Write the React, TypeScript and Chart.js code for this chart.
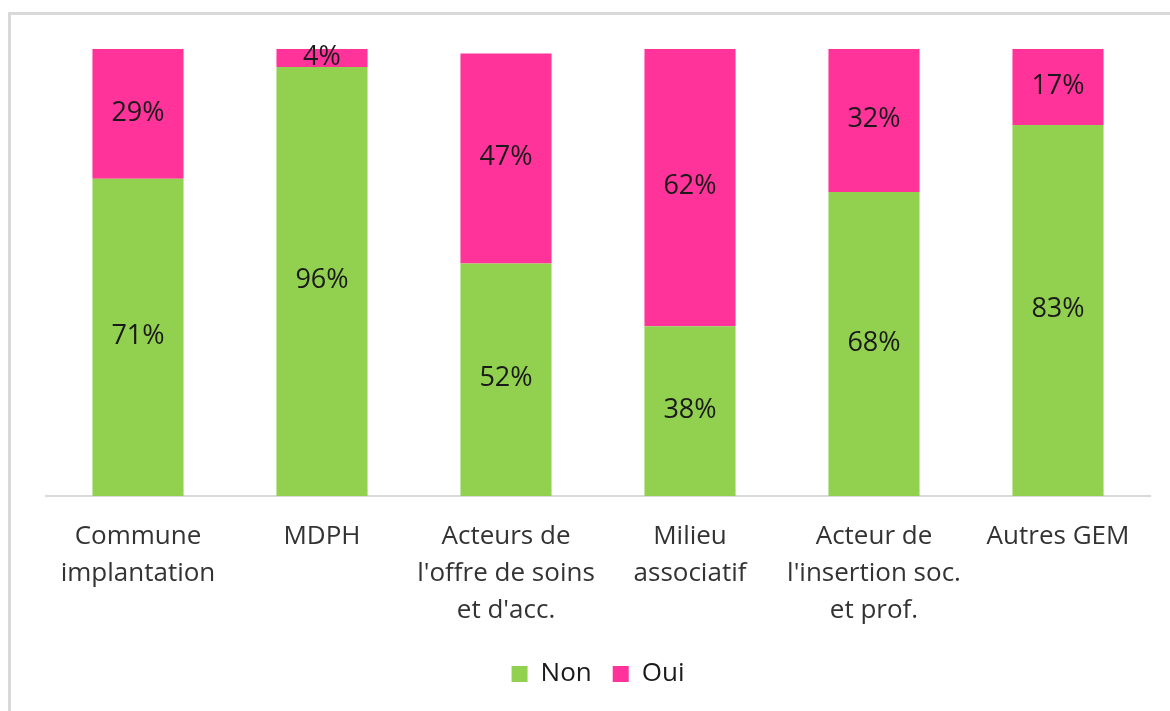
import React, { useEffect, useRef } from "react";
import { Chart, registerables } from "chart.js";

Chart.register(...registerables);

const categories: string[][] = [
  ["Commune", "implantation"],
  ["MDPH"],
  ["Acteurs de", "l'offre de soins", "et d'acc."],
  ["Milieu", "associatif"],
  ["Acteur de", "l'insertion soc.", "et prof."],
  ["Autres GEM"],
];
const nonValues = [71, 96, 52, 38, 68, 83];
const ouiValues = [29, 4, 47, 62, 32, 17];
const seriesNames = ["Non", "Oui"];

const FONT = "'Open Sans', 'DejaVu Sans', sans-serif";

const valueLabelPlugin = {
  id: "valueLabels",
  afterDatasetsDraw(chart: any) {
    const ctx = chart.ctx;
    ctx.save();
    ctx.font = `27px ${FONT}`;
    ctx.fillStyle = "#1a1a1a";
    ctx.textAlign = "center";
    ctx.textBaseline = "middle";
    chart.data.datasets.forEach((ds: any, i: number) => {
      const meta = chart.getDatasetMeta(i);
      meta.data.forEach((bar: any, j: number) => {
        const p = bar.getProps(["x", "y", "base"], true);
        ctx.fillText(`${ds.data[j]}%`, p.x, (p.y + p.base) / 2 - 1);
      });
    });
    ctx.restore();
  },
};

export default function App() {
  const ref = useRef<HTMLCanvasElement | null>(null);

  useEffect(() => {
    if (!ref.current) return;
    const chart = new Chart(ref.current, {
      type: "bar",
      data: {
        labels: categories,
        datasets: [
          {
            label: seriesNames[0],
            data: nonValues,
            backgroundColor: "#92D050",
            borderWidth: 0,
            barPercentage: 0.495,
            categoryPercentage: 1,
          },
          {
            label: seriesNames[1],
            data: ouiValues,
            backgroundColor: "#FF3399",
            borderWidth: 0,
            barPercentage: 0.495,
            categoryPercentage: 1,
          },
        ],
      },
      options: {
        responsive: false,
        animation: false,
        devicePixelRatio: 1,
        layout: { padding: { left: 46, right: 20, top: 49, bottom: 53 } },
        plugins: {
          legend: {
            position: "bottom",
            labels: {
              boxWidth: 16,
              boxHeight: 16,
              padding: 21,
              color: "#1a1a1a",
              font: { family: FONT, size: 26 },
            },
          },
          tooltip: { enabled: false },
        },
        scales: {
          x: {
            stacked: true,
            grid: { display: false, drawTicks: false },
            border: { display: true, color: "#D9D9D9", width: 2 },
            ticks: {
              color: "#333333",
              font: { family: FONT, size: 26, lineHeight: "37px" },
              padding: 22,
              maxRotation: 0,
              autoSkip: false,
            },
            afterFit: (scale: any) => {
              scale.height = 144;
            },
          },
          y: {
            stacked: true,
            display: false,
            min: 0,
            max: 100,
          },
        },
      },
      plugins: [valueLabelPlugin],
    } as any);
    return () => chart.destroy();
  }, []);

  return (
    <div
      style={{
        position: "fixed",
        left: 0,
        top: 0,
        width: 1170,
        height: 711,
        overflow: "hidden",
        background: "#fff",
      }}
    >
      <div
        style={{
          position: "absolute",
          left: 8,
          top: 12,
          width: 1300,
          height: 800,
          borderTop: "3px solid #D9D9D9",
          borderLeft: "3px solid #D9D9D9",
          boxSizing: "border-box",
        }}
      />
      <canvas
        ref={ref}
        width={1170}
        height={750}
        style={{ position: "absolute", left: 0, top: 0, width: 1170, height: 750 }}
      />
    </div>
  );
}
